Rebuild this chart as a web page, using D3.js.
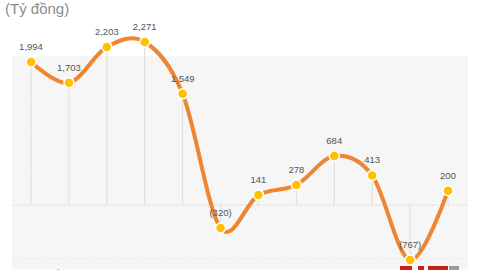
<!DOCTYPE html>
<html>
<head>
<meta charset="utf-8">
<script src="https://cdn.jsdelivr.net/npm/d3@7"></script>
<style>
  body { margin: 0; background: #fff; }
  svg { display: block; }
</style>
</head>
<body>
<svg id="chart" width="480" height="270"></svg>
<script>
var periods = ["1", "2", "3", "4", "5", "6", "7", "8", "9", "10", "11", "12"];
var values = [1994, 1703, 2203, 2271, 1549, -320, 141, 278, 684, 413, -767, 200];
var valueLabels = ["1,994", "1,703", "2,203", "2,271", "1,549", "(320)", "141", "278", "684", "413", "(767)", "200"];
var gridValues = [500, 1000, 1500, 2000];

var svg = d3.select("svg#chart");
var width = +svg.attr("width"),
    height = +svg.attr("height");

var x = d3.scalePoint().domain(periods).range([31, 448]);
var y = d3.scaleLinear().domain([-1000, 2500]).range([276.8, 25.6]);

// plot area
svg.append("rect")
   .attr("x", 12).attr("y", 56)
   .attr("width", 456).attr("height", height - 56)
   .attr("fill", "#f6f6f6");

gridValues.forEach(function(v) {
  svg.append("line")
     .attr("x1", 12).attr("x2", 468)
     .attr("y1", y(v)).attr("y2", y(v))
     .attr("stroke", "#ebebeb")
     .attr("stroke-width", 1)
     .attr("stroke-dasharray", "1,2");
});

svg.append("line")
   .attr("x1", 12).attr("x2", 468)
   .attr("y1", 258.5).attr("y2", 258.5)
   .attr("stroke", "#dedede")
   .attr("stroke-dasharray", "1,2");

// zero line
svg.append("line")
   .attr("x1", 12).attr("x2", 468)
   .attr("y1", y(0)).attr("y2", y(0))
   .attr("stroke", "#d4d4d4")
   .attr("stroke-width", 1)
   .attr("stroke-dasharray", "1,1");

// drop lines
periods.forEach(function(p, i) {
  svg.append("line")
     .attr("x1", x(p)).attr("x2", x(p))
     .attr("y1", y(values[i])).attr("y2", y(0))
     .attr("stroke", "#dcdcdc")
     .attr("stroke-width", 1);
});

var line = d3.line()
  .x(function(d, i) { return x(periods[i]); })
  .y(function(d) { return y(d); })
  .curve(d3.curveCardinal.tension(0));

svg.append("path")
   .datum(values)
   .attr("d", line)
   .attr("fill", "none")
   .attr("stroke", "#ef8530")
   .attr("stroke-width", 4)
   .attr("stroke-linecap", "round");

svg.selectAll("circle.pt")
   .data(values)
   .enter().append("circle")
   .attr("class", "pt")
   .attr("cx", function(d, i) { return x(periods[i]); })
   .attr("cy", function(d) { return y(d); })
   .attr("r", 5)
   .attr("fill", "#ffc000")
   .attr("stroke", "#fff")
   .attr("stroke-width", 1.5);

svg.selectAll("text.lbl")
   .data(values)
   .enter().append("text")
   .attr("class", "lbl")
   .attr("x", function(d, i) { return x(periods[i]); })
   .attr("y", function(d) { return y(d) - 12; })
   .attr("text-anchor", "middle")
   .style("font", "9.5px 'Liberation Sans', Arial, sans-serif")
   .style("fill", "#555")
   .text(function(d, i) { return valueLabels[i]; });

svg.append("text")
   .text("(Tỷ đồng)")
   .attr("x", 5)
   .attr("y", 14)
   .style("font", "15px 'Liberation Sans', Arial, sans-serif")
   .style("fill", "#8c8c8c");

// footer, cut off by the frame as in the source image
svg.append("text")
   .text("LNST cổ đông công ty mẹ")
   .attr("x", 15)
   .attr("y", 278)
   .style("font", "bold 11px 'Liberation Sans', Arial, sans-serif")
   .style("fill", "#7a7a7a");

svg.append("rect").attr("x", 400).attr("y", 266).attr("width", 12).attr("height", 4).attr("fill", "#c8201e");
svg.append("rect").attr("x", 418).attr("y", 266).attr("width", 6).attr("height", 4).attr("fill", "#c8201e");
svg.append("rect").attr("x", 428).attr("y", 266).attr("width", 20).attr("height", 4).attr("fill", "#c8201e");
svg.append("rect").attr("x", 449).attr("y", 266).attr("width", 10).attr("height", 4).attr("fill", "#9a9a9a");
</script>
</body>
</html>
